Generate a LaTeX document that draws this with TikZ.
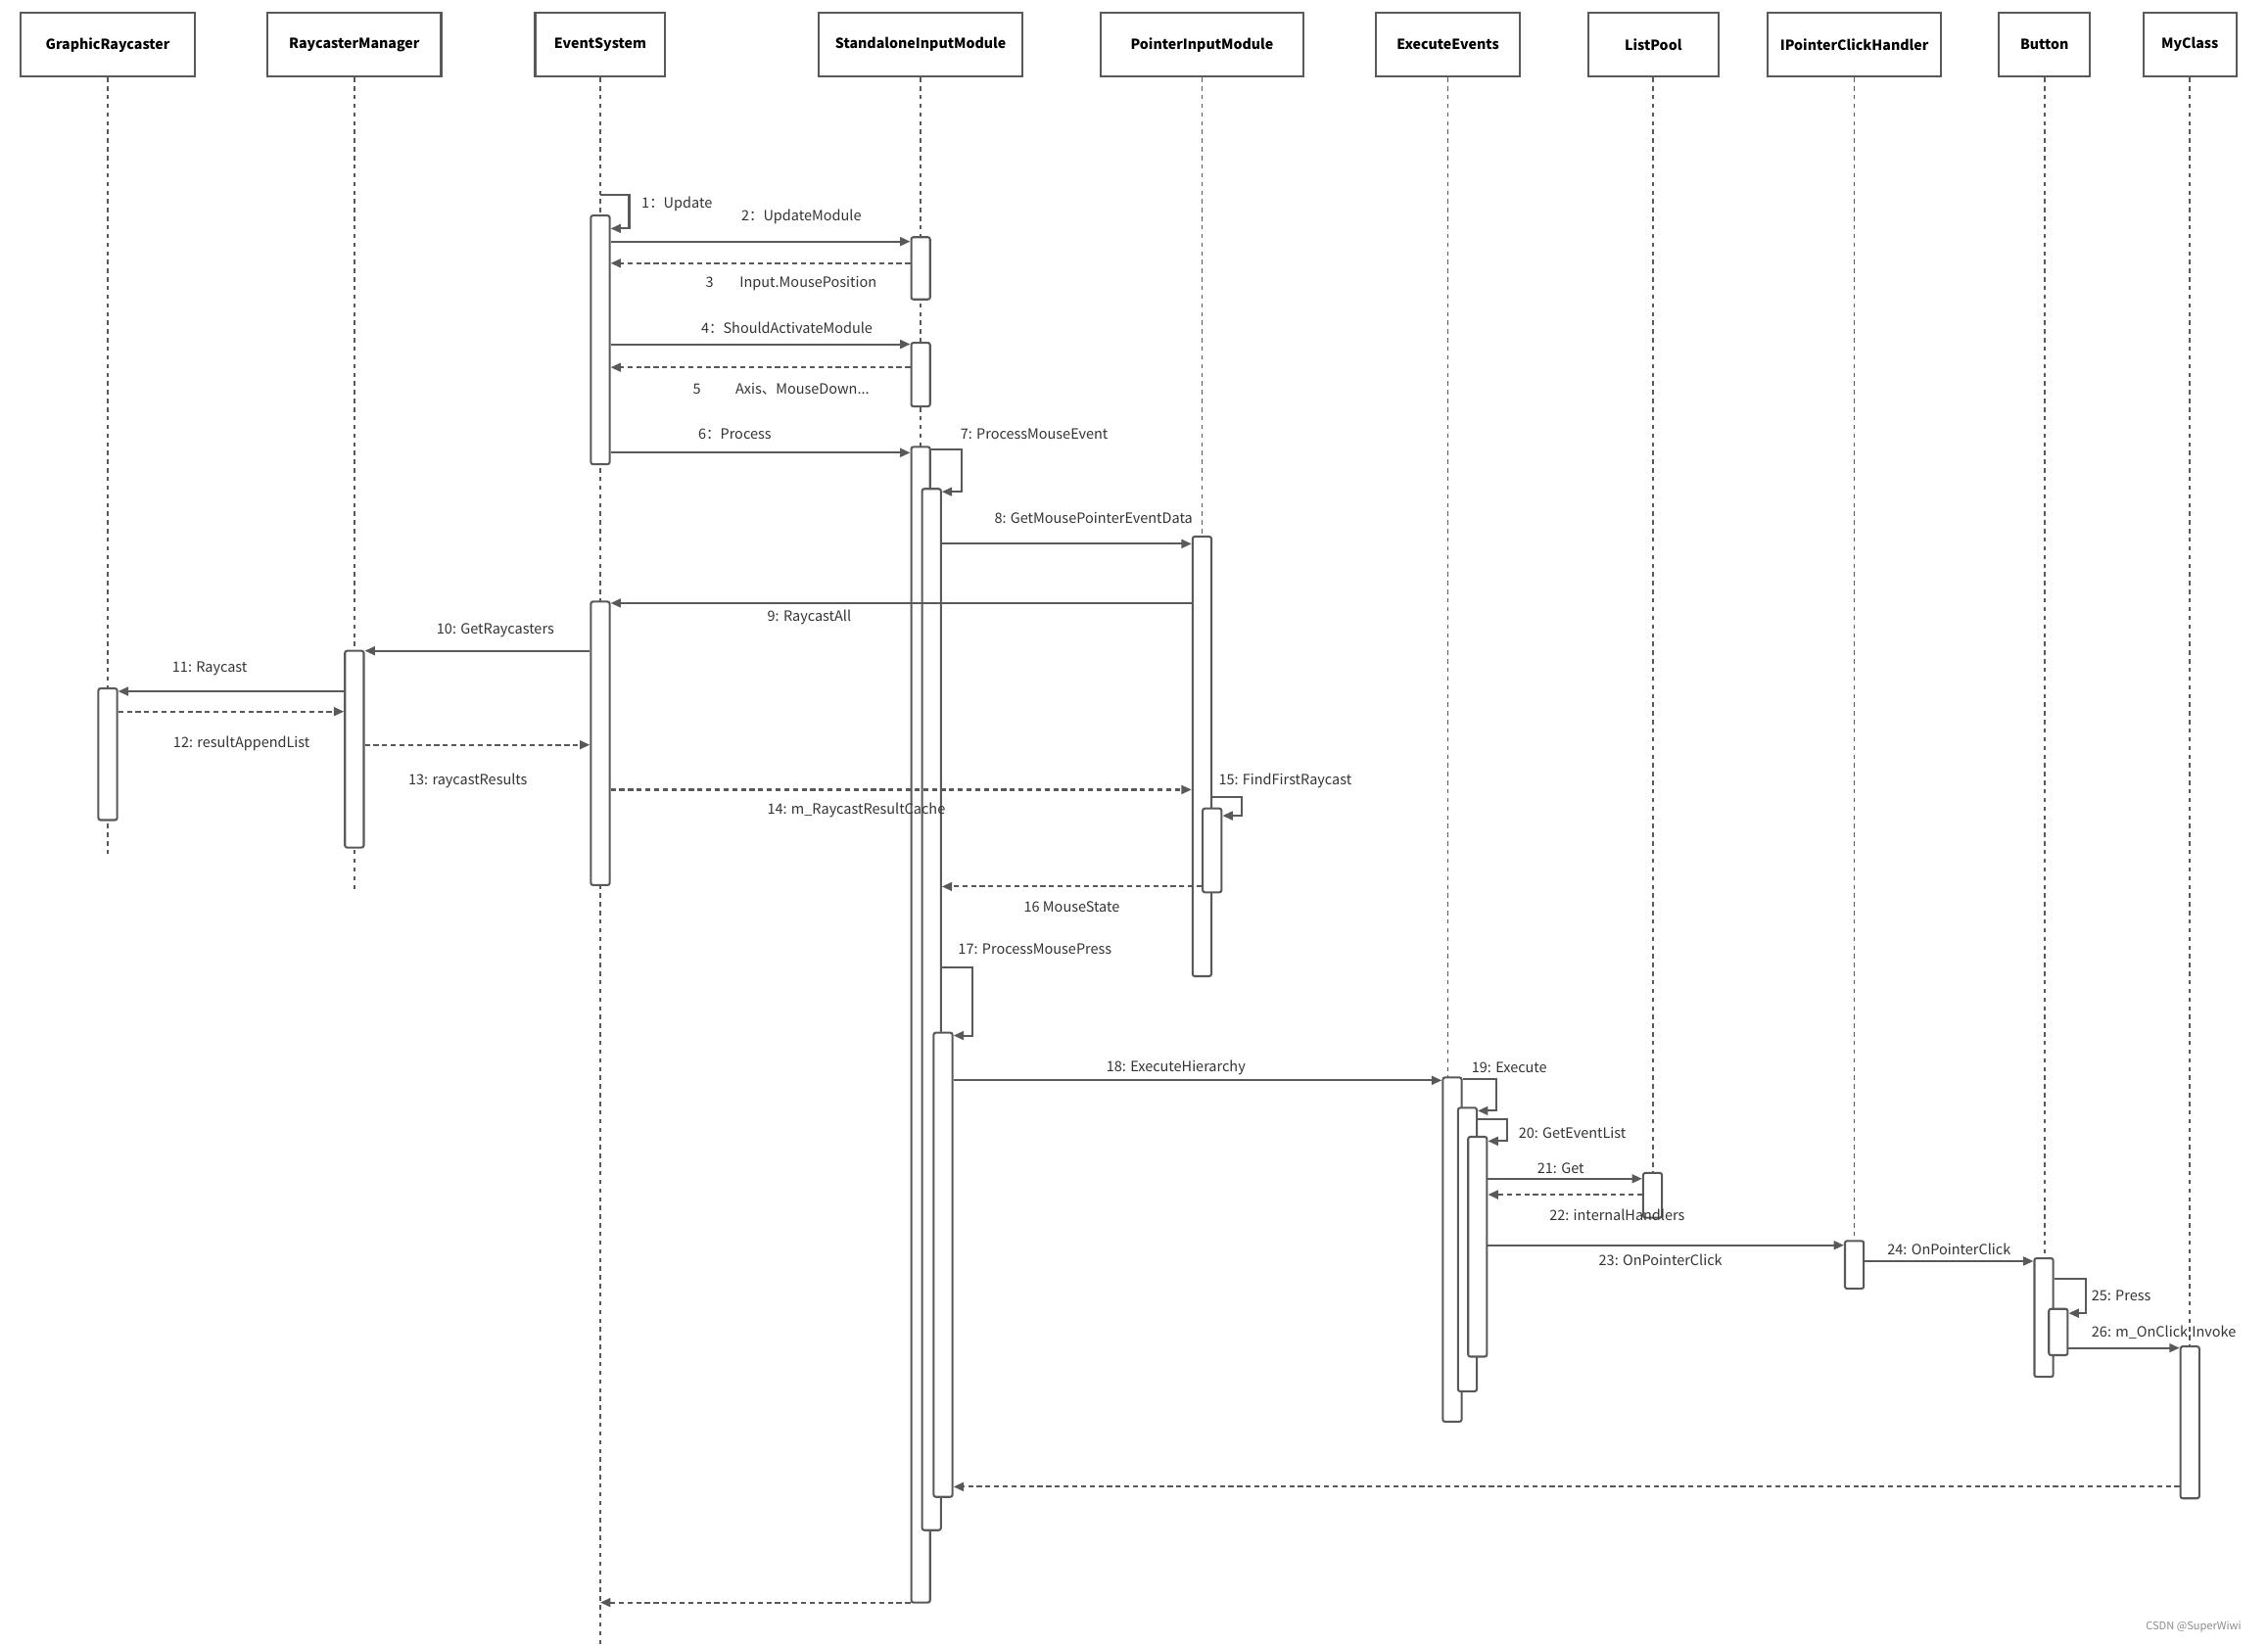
\documentclass[tikz,border=0pt]{standalone}
\usepackage{fontspec}
\setmainfont{Noto Sans CJK SC}
\usetikzlibrary{arrows.meta}
\definecolor{linegray}{HTML}{595959}
\definecolor{textgray}{HTML}{333333}

\begin{document}
\begin{tikzpicture}
  [x=1pt,y=-1pt,line width=1.4pt,
   obj/.style={draw=linegray,fill=white,minimum height=44pt,inner sep=0pt,font=\fontsize{9.6}{11}\selectfont\bfseries,text=black},
   act/.style={draw=linegray,fill=white,rounded corners=1.5pt,minimum width=13pt,inner sep=0pt},
   life/.style={draw=linegray,line width=1.1pt,dash pattern=on 3pt off 3pt},
   msg/.style={draw=linegray,-{Triangle[length=7pt,width=6pt]}},
   ret/.style={msg,dash pattern=on 3.5pt off 2.5pt},
   lbl/.style={font=\fontsize{9.8}{11}\selectfont,text=textgray,inner sep=0pt}]

  \useasboundingbox (0,0) rectangle (1568,1137);

  \node[obj,minimum width=121pt] (gr) at (74.5,31) {GraphicRaycaster};
  \node[obj,minimum width=120pt] (rm) at (245,31) {RaycasterManager};
  \node[obj,minimum width=90pt] (es) at (415,31) {EventSystem};
  \node[obj,minimum width=141pt] (sim) at (636.5,31) {StandaloneInputModule};
  \node[obj,minimum width=140pt] (pim) at (831,31) {PointerInputModule};
  \node[obj,minimum width=100pt] (ee) at (1001,31) {ExecuteEvents};
  \node[obj,minimum width=90pt] (lp) at (1143,31) {ListPool};
  \node[obj,minimum width=120pt] (ip) at (1282,31) {IPointerClickHandler};
  \node[obj,minimum width=63pt] (bt) at (1413.5,31) {Button};
  \node[obj,minimum width=64pt] (mc) at (1514,31) {MyClass};

  \draw[life] (gr.south) -- ++(0,537);
  \draw[life] (rm.south) -- ++(0,562);
  \draw[life] (es.south) -- ++(0,1084);
  \draw[life] (sim.south) -- ++(0,256);
  \draw[life] (pim.south) -- ++(0,318);
  \draw[life] (ee.south) -- ++(0,692);
  \draw[life] (lp.south) -- ++(0,758);
  \draw[life] (ip.south) -- ++(0,805);
  \draw[life] (bt.south) -- ++(0,817);
  \draw[life] (mc.south) -- ++(0,878);

  \node[act,minimum height=172pt] (es1) at (415,235) {};
  \node[act,minimum height=196pt] (es2) at (415,514) {};
  \node[act,minimum height=43pt] (sim1) at (636.5,185.5) {};
  \node[act,minimum height=44pt] (sim2) at (636.5,259) {};
  \node[act,minimum height=799pt] (sim3) at (636.5,708.5) {};
  \node[act,minimum height=720pt] (sim4) at (644,698) {};
  \node[act,minimum height=321pt] (sim5) at (652,874.5) {};
  \node[act,minimum height=304pt] (pim1) at (831,523) {};
  \node[act,minimum height=58pt] (pim2) at (838,588) {};
  \node[act,minimum height=136pt] (rm1) at (245,518) {};
  \node[act,minimum height=91pt] (gr1) at (74.5,521.5) {};
  \node[act,minimum height=238pt] (ee1) at (1004,864) {};
  \node[act,minimum height=196pt] (ee2) at (1014.5,864) {};
  \node[act,minimum height=152pt] (ee3) at (1021.5,862) {};
  \node[act,minimum height=31pt] (lp1) at (1142.5,826.5) {};
  \node[act,minimum height=33pt] (ip1) at (1282,874.5) {};
  \node[act,minimum height=82pt] (bt1) at (1413,911) {};
  \node[act,minimum height=32pt] (bt2) at (1423,921) {};
  \node[act,minimum height=105pt] (mc1) at (1514,983.5) {};

  \coordinate (m1) at (0,135);   \coordinate (m1r) at (0,158);
  \coordinate (m2) at (0,167);   \coordinate (m3) at (0,182);
  \coordinate (m4) at (0,238);   \coordinate (m5) at (0,254);
  \coordinate (m6) at (0,313);
  \coordinate (m7) at (0,311);   \coordinate (m7r) at (0,340);
  \coordinate (m8) at (0,376);   \coordinate (m9) at (0,417);
  \coordinate (m10) at (0,450);  \coordinate (m11) at (0,478);
  \coordinate (m12) at (0,492);  \coordinate (m13) at (0,515);
  \coordinate (m14) at (0,546);
  \coordinate (m15) at (0,551);  \coordinate (m15r) at (0,564);
  \coordinate (m16) at (0,613);
  \coordinate (m17) at (0,669);  \coordinate (m17r) at (0,716);
  \coordinate (m18) at (0,747);
  \coordinate (m19) at (0,746);  \coordinate (m19r) at (0,768);
  \coordinate (m20) at (0,774);  \coordinate (m20r) at (0,789);
  \coordinate (m21) at (0,815);  \coordinate (m22) at (0,826);
  \coordinate (m23) at (0,861);  \coordinate (m24) at (0,872);
  \coordinate (m25) at (0,884);  \coordinate (m25r) at (0,908);
  \coordinate (m26) at (0,932);  \coordinate (m27) at (0,1028);
  \coordinate (m28) at (0,1108);

  \draw[msg] (es |- m1) -- ++(20,0) |- (es1.east |- m1r);
  \draw[msg] (es1.east |- m2) -- (sim1.west |- m2);
  \draw[ret] (sim1.west |- m3) -- (es1.east |- m3);
  \draw[msg] (es1.east |- m4) -- (sim2.west |- m4);
  \draw[ret] (sim2.west |- m5) -- (es1.east |- m5);
  \draw[msg] (es1.east |- m6) -- (sim3.west |- m6);
  \draw[msg] (sim3.east |- m7) -- ++(21,0) |- (sim4.east |- m7r);
  \draw[msg] (sim4.east |- m8) -- (pim1.west |- m8);
  \draw[msg] (pim1.west |- m9) -- (es2.east |- m9);
  \draw[msg] (es2.west |- m10) -- (rm1.east |- m10);
  \draw[msg] (rm1.west |- m11) -- (gr1.east |- m11);
  \draw[ret] (gr1.east |- m12) -- (rm1.west |- m12);
  \draw[ret] (rm1.east |- m13) -- (es2.west |- m13);
  \draw[ret] (es2.east |- m14) -- (pim1.west |- m14);
  \draw[msg] (pim1.east |- m15) -- ++(20,0) |- (pim2.east |- m15r);
  \draw[ret] (pim2.west |- m16) -- (sim4.east |- m16);
  \draw[msg] (sim4.east |- m17) -- ++(21,0) |- (sim5.east |- m17r);
  \draw[msg] (sim5.east |- m18) -- (ee1.west |- m18);
  \draw[msg] (ee1.east |- m19) -- ++(23,0) |- (ee2.east |- m19r);
  \draw[msg] (ee2.east |- m20) -- ++(20,0) |- (ee3.east |- m20r);
  \draw[msg] (ee3.east |- m21) -- (lp1.west |- m21);
  \draw[ret] (lp1.west |- m22) -- (ee3.east |- m22);
  \draw[msg] (ee3.east |- m23) -- (ip1.west |- m23);
  \draw[msg] (ip1.east |- m24) -- (bt1.west |- m24);
  \draw[msg] (bt1.east |- m25) -- ++(22,0) |- (bt2.east |- m25r);
  \draw[msg] (bt2.east |- m26) -- (mc1.west |- m26);
  \draw[ret] (mc1.west |- m27) -- (sim5.east |- m27);
  \draw[ret] (sim3.west |- m28) -- (es |- m28);

  \node[lbl] (l1) at (468,141) {1：Update};
  \node[lbl] (l2) at (554,150) {2：UpdateModule};
  \node[lbl] (l3) at (547,196) {3\hspace{18pt}Input.MousePosition};
  \node[lbl] (l4) at (544,227) {4：ShouldActivateModule};
  \node[lbl] (l5) at (540,269) {5\hspace{24pt}Axis、MouseDown...};
  \node[lbl] (l6) at (508,300) {6：Process};
  \node[lbl] (l7) at (715,300) {7: ProcessMouseEvent};
  \node[lbl] (l8) at (756,358) {8: GetMousePointerEventData};
  \node[lbl] (l9) at (559.5,427) {9: RaycastAll};
  \node[lbl] (l10) at (342.5,436) {10: GetRaycasters};
  \node[lbl] (l11) at (145,462) {11: Raycast};
  \node[lbl] (l12) at (167,514) {12: resultAppendList};
  \node[lbl] (l13) at (323.5,540) {13: raycastResults};
  \node[lbl] (l14) at (592,560) {14: m\_RaycastResultCache};
  \node[lbl] (l15) at (888.5,540) {15: FindFirstRaycast};
  \node[lbl] (l16) at (741,627) {16 MouseState};
  \node[lbl] (l17) at (715.5,656) {17: ProcessMousePress};
  \node[lbl] (l18) at (813,738) {18: ExecuteHierarchy};
  \node[lbl] (l19) at (1043.5,738) {19: Execute};
  \node[lbl] (l20) at (1087,783) {20: GetEventList};
  \node[lbl] (l21) at (1079,808) {21: Get};
  \node[lbl] (l22) at (1118,840) {22: internalHandlers};
  \node[lbl] (l23) at (1148,871) {23: OnPointerClick};
  \node[lbl] (l24) at (1347.5,864) {24: OnPointerClick};
  \node[lbl] (l25) at (1466.5,896) {25: Press};
  \node[lbl] (l26) at (1496,921) {26: m\_OnClick.Invoke};
  \node[lbl,font=\fontsize{7.5}{8}\selectfont,text=black!45] (wm) at (1516.5,1125) {CSDN @SuperWiwi};
\end{tikzpicture}
\end{document}
